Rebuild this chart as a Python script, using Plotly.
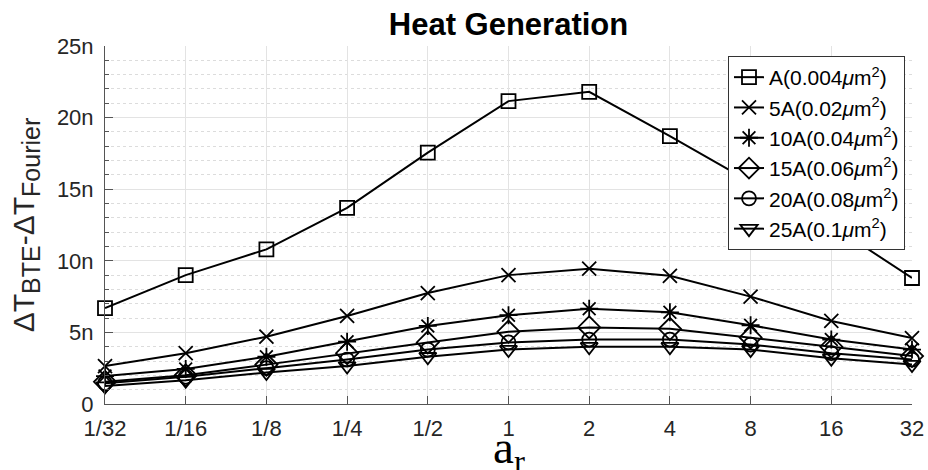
import plotly.graph_objects as go

categories = ["1/32", "1/16", "1/8", "1/4", "1/2", "1", "2", "4", "8", "16", "32"]
series_names = [
    "A(0.004<i>μ</i>m<sup>2</sup>)",
    "5A(0.02<i>μ</i>m<sup>2</sup>)",
    "10A(0.04<i>μ</i>m<sup>2</sup>)",
    "15A(0.06<i>μ</i>m<sup>2</sup>)",
    "20A(0.08<i>μ</i>m<sup>2</sup>)",
    "25A(0.1<i>μ</i>m<sup>2</sup>)",
]
# values in units of n (1e-9)
s_A = [6.7, 9.0, 10.8, 13.7, 17.55, 21.15, 21.8, 18.7, 15.5, 12.5, 8.8]
s_5A = [2.65, 3.55, 4.7, 6.15, 7.75, 9.0, 9.45, 8.95, 7.5, 5.8, 4.6]
s_10A = [1.95, 2.45, 3.3, 4.35, 5.45, 6.2, 6.65, 6.4, 5.5, 4.5, 3.8]
s_15A = [1.55, 2.0, 2.75, 3.55, 4.3, 5.05, 5.35, 5.25, 4.65, 4.0, 3.35]
s_20A = [1.45, 1.9, 2.5, 3.1, 3.8, 4.3, 4.5, 4.5, 4.15, 3.55, 3.1]
s_25A = [1.25, 1.65, 2.2, 2.65, 3.3, 3.8, 4.0, 4.0, 3.8, 3.2, 2.75]
y_tick_vals = [0, 5, 10, 15, 20, 25]
y_tick_text = ["0", "5n", "10n", "15n", "20n", "25n"]

series = [s_A, s_5A, s_10A, s_15A, s_20A, s_25A]
symbols = ["square-open", "x-thin-open", "asterisk-open", "diamond-open", "circle-open", "triangle-down-open"]
sizes = [14, 14, 15, 17, 14, 15]

xpos = list(range(len(categories)))

W, H = 928, 470
ML, MR, MT, MB = 105, 16, 46, 66
PW = W - ML - MR
PH = H - MT - MB

fig = go.Figure()
for name, vals, sym, sz in zip(series_names, series, symbols, sizes):
    fig.add_trace(go.Scatter(
        x=xpos, y=vals, name=name, mode="lines+markers",
        line=dict(color="black", width=2),
        marker=dict(symbol=sym, size=sz, color="black", line=dict(color="black", width=1.8)),
        cliponaxis=False,
    ))

sans = "Liberation Sans, Arial, sans-serif"
axis_font = dict(family=sans, size=22, color="#262626")

fig.update_layout(
    width=W, height=H,
    margin=dict(l=ML, r=MR, t=MT, b=MB),
    paper_bgcolor="white", plot_bgcolor="white",
    title=dict(text="<b>Heat Generation</b>", x=0.5, xref="paper", xanchor="center",
               y=(H - 24) / H, yanchor="middle", yref="container",
               font=dict(family=sans, size=31, color="black")),
    showlegend=True,
    legend=dict(x=(728 - ML) / PW, y=(H - MB - 56) / PH, xanchor="left", yanchor="top",
                bgcolor="white", bordercolor="#333", borderwidth=1,
                font=dict(family=sans, size=21, color="black"),
                itemwidth=30, tracegroupgap=0),
    xaxis=dict(
        range=[0, len(categories) - 1],
        tickvals=xpos, ticktext=categories,
        tickfont=axis_font, ticklabelstandoff=5,
        ticks="inside", ticklen=8, tickcolor="#555",
        showline=True, linecolor="#555", linewidth=1,
        showgrid=True, gridcolor="#e3e3e3", gridwidth=1,
        zeroline=False, automargin=False,
    ),
    yaxis=dict(
        range=[0, 25],
        tickvals=y_tick_vals, ticktext=y_tick_text,
        tickfont=axis_font, ticklabelstandoff=6,
        ticks="inside", ticklen=8, tickcolor="#555",
        showline=True, linecolor="#555", linewidth=1,
        showgrid=True, gridcolor="#e3e3e3", gridwidth=1,
        zeroline=False, automargin=False,
        minor=dict(dtick=1, ticks="inside", ticklen=4, tickcolor="#555",
                   showgrid=True, gridcolor="#dcdcdc", griddash="dot", gridwidth=1),
        title=dict(text="ΔT<sub><span style='font-size:25px'>BTE</span></sub>-ΔT<sub><span style='font-size:25px'>Fourier</span></sub>",
                   font=dict(family=sans, size=30, color="#262626"), standoff=13),
    ),
    annotations=[dict(
        text="a<sub>r</sub>", xref="paper", yref="paper", x=0.5, xanchor="center",
        y=-(419 - (H - MB)) / PH, yanchor="top",
        showarrow=False,
        font=dict(family="Liberation Serif, Times New Roman, serif", size=47, color="black"),
    )],
)

fig.write_html("out.html")
